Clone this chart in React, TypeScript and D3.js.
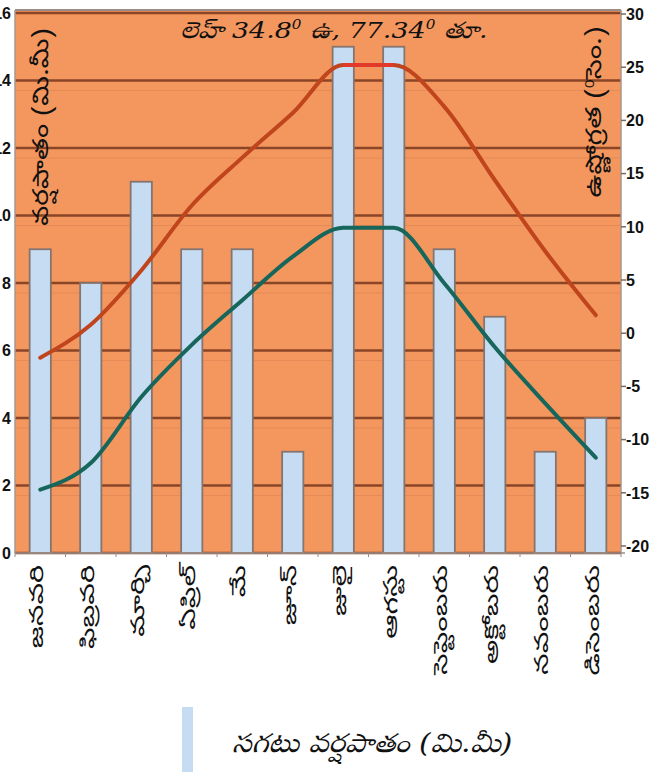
import React from "react";
import * as d3 from "d3";

const months = ["జనవరి", "ఫిబ్రవరి", "మార్చి", "ఏప్రిల్", "మే", "జూన్", "జులై", "ఆగస్టు", "సెప్టెంబరు", "అక్టోబరు", "నవంబరు", "డిసెంబరు"];
const rainfall = [9, 8, 11, 9, 9, 3, 15, 15, 9, 7, 3, 4];
const maxTemp = [-2.3, 0.8, 5.9, 12, 16.5, 20.7, 25.2, 25.2, 21.3, 14.4, 7.7, 1.7];
const minTemp = [-14.7, -12.2, -6, -1.1, 3.1, 7.2, 9.9, 9.9, 4.7, -1.3, -6.6, -11.7];
const leftTicks = [0, 2, 4, 6, 8, 10, 12, 14, 16];
const rightTicks = [-20, -15, -10, -5, 0, 5, 10, 15, 20, 25, 30];

const W = 655;
const H = 784;
const PL = 15;
const PR = 621;
const PT = 13;
const PB = 553;

const TEL = "'Noto Sans Telugu', 'Noto Sans', 'DejaVu Sans', sans-serif";
const TEL_SERIF = "'DejaVu Serif', 'Noto Serif Telugu', 'Noto Sans Telugu', serif";

export default function App() {
  const x = d3.scaleBand<string>().domain(months).range([PL, PR]).paddingInner(0.58).paddingOuter(0.29);
  const yL = d3.scaleLinear().domain([0, 16]).range([PB, PT]);
  const yR = d3.scaleLinear().domain([-20, 30]).range([546, 14]);
  const cx = (i: number) => (x(months[i]) as number) + x.bandwidth() / 2;
  const lineGen = d3.line<number>().x((_, i) => cx(i)).y((d) => yR(d)).curve(d3.curveMonotoneX);
  const step = x.step();
  const bounds = d3.range(13).map((i) => PL + i * step);

  return (
    <div style={{ position: "absolute", left: 0, top: 0 }}>
      <svg width={W} height={H} style={{ display: "block", background: "#ffffff" }}>
        {/* plot background */}
        <rect x={PL} y={10} width={PR - PL} height={PB - 10} fill="#f3975f" />
        {/* gridlines */}
        {leftTicks.map((t) => (
          <g key={"g" + t}>
            <line x1={PL} x2={PR} y1={yL(t)} y2={yL(t)} stroke="#8a4526" strokeWidth={2.4} />
            {t < 16 && t > 0 && (
              <line x1={PL} x2={PR} y1={yL(t) + 10} y2={yL(t) + 10} stroke="#d98050" strokeWidth={1} opacity={0.5} />
            )}
          </g>
        ))}
        {/* borders */}
        <line x1={PL} x2={PR} y1={10} y2={10} stroke="#9a8c86" strokeWidth={2} />
        <line x1={PL} x2={PL} y1={10} y2={PB} stroke="#a8968c" strokeWidth={1.5} />
        <line x1={PR} x2={PR} y1={10} y2={PB} stroke="#a8968c" strokeWidth={1.5} />
        {/* bars */}
        {rainfall.map((v, i) => (
          <rect
            key={"b" + i}
            x={x(months[i])}
            y={yL(v)}
            width={x.bandwidth()}
            height={PB - yL(v)}
            fill="#c6dcf2"
            stroke="#857570"
            strokeWidth={1.8}
          />
        ))}
        {/* bottom axis */}
        <line x1={PL} x2={PR + 4} y1={PB} y2={PB} stroke="#9a8c86" strokeWidth={1.5} />
        {bounds.map((b, i) => (
          <line key={"t" + i} x1={b} x2={b} y1={PB} y2={PB + 4} stroke="#9a8c86" strokeWidth={1} />
        ))}
        {/* right ticks */}
        {rightTicks.map((t) => (
          <line key={"rt" + t} x1={PR} x2={PR + 5} y1={yR(t)} y2={yR(t)} stroke="#7a6a64" strokeWidth={1.5} />
        ))}
        {/* temperature lines */}
        <path d={lineGen(maxTemp) || ""} fill="none" stroke="#c0441c" strokeWidth={4} strokeLinecap="round" />
        <line x1={cx(6)} x2={cx(7)} y1={yR(maxTemp[6])} y2={yR(maxTemp[7])} stroke="#e23a2a" strokeWidth={4} />
        <path d={lineGen(minTemp) || ""} fill="none" stroke="#17665c" strokeWidth={4} strokeLinecap="round" />
        {/* left tick labels */}
        {leftTicks.map((t) => (
          <text
            key={"lt" + t}
            x={11}
            y={yL(t)}
            dy="0.36em"
            textAnchor="end"
            fontFamily="'Liberation Sans', Arial, sans-serif"
            fontWeight="bold"
            fontSize={16}
            fill="#111"
          >
            {t}
          </text>
        ))}
        {/* right tick labels */}
        {rightTicks.map((t) => (
          <text
            key={"rl" + t}
            x={626}
            y={yR(t)}
            dy="0.36em"
            textAnchor="start"
            fontFamily="'Liberation Sans', Arial, sans-serif"
            fontWeight="bold"
            fontSize={16}
            fill="#111"
          >
            {t}
          </text>
        ))}
        {/* month labels */}
        {months.map((m, i) => (
          <text
            key={"m" + i}
            transform={`translate(${cx(i) + 3},${PB + 12}) rotate(-90) scale(1.6,1)`}
            textAnchor="end"
            fontFamily={TEL}
            fontSize={19}
            fill="#111"
          >
            {m}
          </text>
        ))}
        {/* title */}
        <text
          transform="translate(180,38) scale(1.17,1)"
          fontFamily={TEL_SERIF}
          fontStyle="italic"
          fontSize={23}
          fill="#111"
        >
          లెహ్ 34.8<tspan dy={-9} fontSize={13}>0</tspan>
          <tspan dy={9}> ఉ, 77.34</tspan>
          <tspan dy={-9} fontSize={13}>0</tspan>
          <tspan dy={9}> తూ.</tspan>
        </text>
        {/* left axis title */}
        <text
          transform={`translate(48,127) rotate(-90) scale(1.28,1)`}
          textAnchor="middle"
          fontFamily={TEL}
          fontSize={22}
          fill="#111"
        >
          వర్షపాతం (మి.మీ)
        </text>
        {/* right axis title */}
        <text
          transform={`translate(601,112) rotate(-90) scale(1.3,1)`}
          textAnchor="middle"
          fontFamily={TEL}
          fontSize={22}
          fill="#111"
        >
          ఉష్ణోగ్రత (<tspan dy={-7} fontSize={12}>0</tspan>
          <tspan dy={7}>సెం.)</tspan>
        </text>
        {/* legend */}
        <rect x={182} y={707} width={11} height={65} fill="#c6dcf2" />
        <text
          transform="translate(232,752) scale(1.14,1)"
          fontFamily={TEL_SERIF}
          fontStyle="italic"
          fontSize={26}
          fill="#111"
        >
          సగటు వర్షపాతం (మి.మీ)
        </text>
      </svg>
    </div>
  );
}
